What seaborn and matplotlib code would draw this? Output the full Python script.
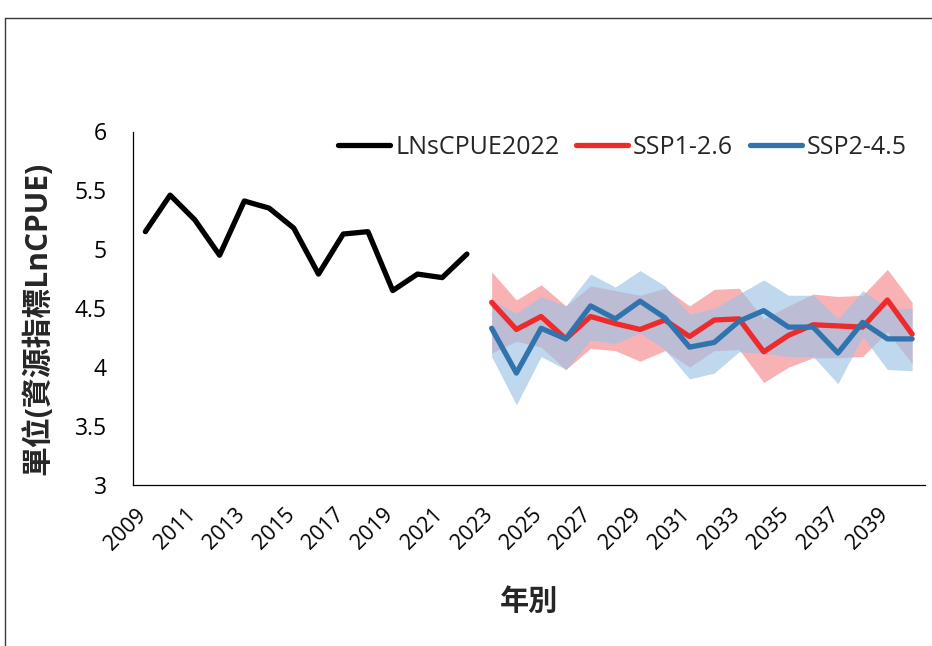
import numpy as np
import pandas as pd
import seaborn as sns
import matplotlib
matplotlib.use("Agg")
import matplotlib.pyplot as plt
from matplotlib.lines import Line2D
from matplotlib.transforms import ScaledTranslation

# ---- data ----
hist_years = list(range(2009, 2023))
lnscpue = [5.15, 5.46, 5.25, 4.95, 5.41, 5.35, 5.18, 4.79, 5.13, 5.15,
           4.65, 4.79, 4.76, 4.96]

proj_years = list(range(2023, 2041))
ssp126 = [4.55, 4.32, 4.43, 4.24, 4.43, 4.37, 4.32, 4.40, 4.26,
          4.40, 4.41, 4.13, 4.27, 4.36, 4.35, 4.34, 4.57, 4.28]
ssp126_lo = [4.12, 4.22, 4.17, 3.98, 4.16, 4.14, 4.05, 4.14, 4.00,
             4.14, 4.15, 3.87, 4.00, 4.08, 4.08, 4.09, 4.30, 4.03]
ssp126_hi = [4.81, 4.57, 4.70, 4.52, 4.69, 4.65, 4.61, 4.67, 4.52,
             4.66, 4.67, 4.41, 4.52, 4.62, 4.60, 4.61, 4.83, 4.55]

ssp245 = [4.33, 3.95, 4.33, 4.24, 4.52, 4.41, 4.56, 4.42, 4.17,
          4.21, 4.39, 4.48, 4.34, 4.34, 4.12, 4.38, 4.24, 4.24]
ssp245_lo = [4.09, 3.68, 4.09, 3.98, 4.23, 4.20, 4.29, 4.15, 3.90,
             3.95, 4.13, 4.12, 4.09, 4.09, 3.86, 4.26, 3.98, 3.97]
ssp245_hi = [4.57, 4.46, 4.60, 4.52, 4.79, 4.68, 4.82, 4.69, 4.45,
             4.50, 4.62, 4.74, 4.61, 4.61, 4.41, 4.65, 4.50, 4.50]

x_ticks = list(range(2009, 2041, 2))
y_ticks = [3, 3.5, 4, 4.5, 5, 5.5, 6]

series_names = ["LNsCPUE2022", "SSP1-2.6", "SSP2-4.5"]
line_colors = ["#000000", "#EE2A2A", "#3174AD"]

# ---- style ----
sns.set_style("white")
plt.rcParams["font.family"] = ["Open Sans", "Noto Sans CJK TC", "DejaVu Sans"]

W, H = 932, 646
fig = plt.figure(figsize=(W / 100, H / 100), dpi=100)
ax_h = (485 - 131.5)
ax_w = (924.5 - 133)
ax = fig.add_axes([133 / W, 1 - 485 / H, ax_w / W, ax_h / H])

# uncertainty bands
ax.fill_between(proj_years, ssp126_lo, ssp126_hi, color="#F8B2B4", lw=0, zorder=1)
ax.fill_between(proj_years, ssp245_lo, ssp245_hi, color="#9DC3E6", alpha=0.65,
                lw=0, zorder=2)

# lines
df_hist = pd.DataFrame({"year": hist_years, "value": lnscpue})
df_126 = pd.DataFrame({"year": proj_years, "value": ssp126})
df_245 = pd.DataFrame({"year": proj_years, "value": ssp245})
for d, name, col, z in [(df_hist, series_names[0], line_colors[0], 3),
                        (df_126, series_names[1], line_colors[1], 4),
                        (df_245, series_names[2], line_colors[2], 5)]:
    sns.lineplot(data=d, x="year", y="value", color=col, lw=3.8, label=name,
                 ax=ax, zorder=z, solid_joinstyle="round")

ax.set_xlim(2008.5, 2040.5)
ax.set_ylim(3, 6)
ax.set_xticks(x_ticks)
ax.set_xticklabels([str(t) for t in x_ticks], rotation=45, ha="right")
ax.set_yticks(y_ticks)
ax.set_yticklabels([f"{t:g}" for t in y_ticks])
ax.tick_params(axis="both", length=0, colors="#000000")
ax.tick_params(axis="y", pad=19, labelsize=16.5)
ax.tick_params(axis="x", pad=14, labelsize=15.5)
shift = ScaledTranslation(5 / 100, 0, fig.dpi_scale_trans)
for lbl in ax.get_xticklabels():
    lbl.set_transform(lbl.get_transform() + shift)

for s in ["top", "right"]:
    ax.spines[s].set_visible(False)
for s in ["left", "bottom"]:
    ax.spines[s].set_color("#000000")
    ax.spines[s].set_linewidth(0.9)

ax.set_xlabel("年別", fontsize=21, fontweight="bold")
ax.xaxis.set_label_coords(0.5, -(588 - 485) / ax_h)
ax.set_ylabel("單位(資源指標LnCPUE)", fontsize=21.5, fontweight="bold")
ax.yaxis.set_label_coords(-(133 - 53) / ax_w, 1 - (318 - 131.5) / ax_h)

leg = ax.legend(loc="center right", ncol=3, frameon=False, fontsize=18,
                handlelength=2.1, handletextpad=0.2, columnspacing=0.65,
                borderpad=0, borderaxespad=0,
                bbox_to_anchor=(907 / W, 1 - 147 / H), bbox_transform=fig.transFigure)
for h in leg.legend_handles:
    h.set_linewidth(3.8)

# outer frame (top and left edges)
fig.add_artist(Line2D([5 / W, 1], [1 - 18 / H, 1 - 18 / H], color="#3a3a3a", lw=1.0,
                      transform=fig.transFigure))
fig.add_artist(Line2D([5 / W, 5 / W], [0, 1 - 18 / H], color="#3a3a3a", lw=1.0,
                      transform=fig.transFigure))

fig.savefig("out.png", dpi=100, facecolor="white")
